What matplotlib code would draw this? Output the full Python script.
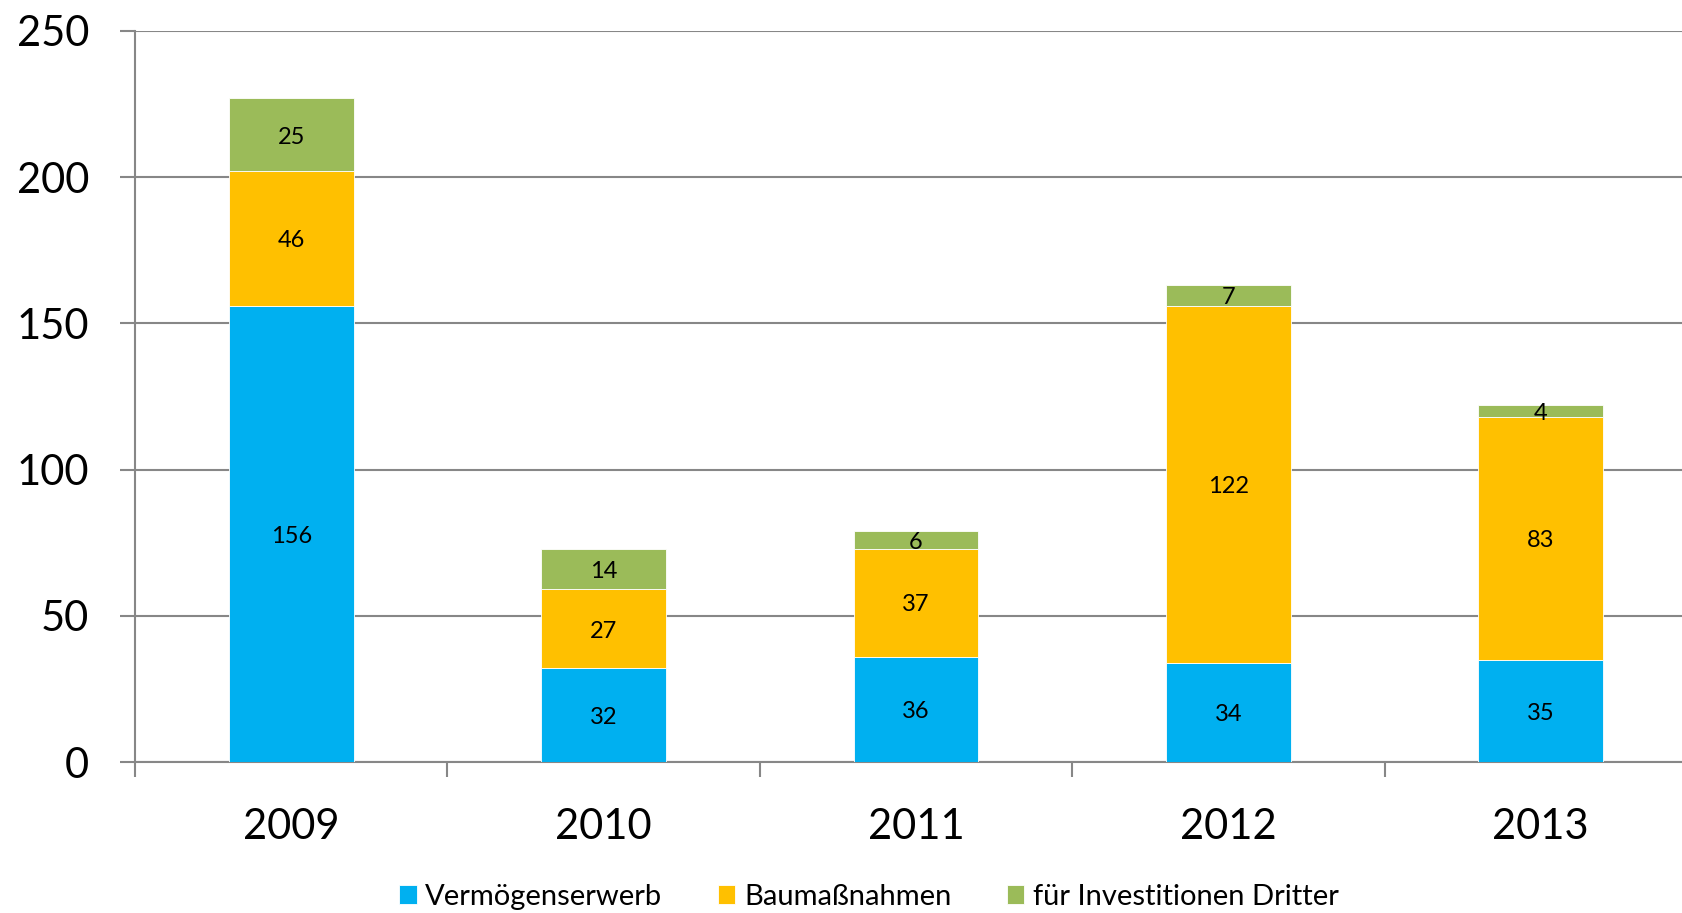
import matplotlib
matplotlib.use("Agg")
from matplotlib import pyplot as plt
import numpy as np

plt.rcParams['font.family'] = ['Lato', 'DejaVu Sans']

years = ["2009", "2010", "2011", "2012", "2013"]
vermoegen = [156, 32, 36, 34, 35]
bau = [46, 27, 37, 122, 83]
dritte = [25, 14, 6, 7, 4]
series_names = ["Vermögenserwerb", "Baumaßnahmen", "für Investitionen Dritter"]
colors = ["#00B0F0", "#FFC000", "#9BBB59"]

fig = plt.figure(figsize=(16.82, 9.13), dpi=100)
# axes runs past the right edge, like the cropped original
ax = fig.add_axes([135 / 1682, 151 / 913, 1562 / 1682, 731 / 913])

x = np.arange(len(years))
bottom = np.zeros(len(years))
for vals, name, col in zip([vermoegen, bau, dritte], series_names, colors):
    bars = ax.bar(x, vals, 0.4, bottom=bottom, color=col, label=name,
                  edgecolor="white", linewidth=0.6, zorder=3)
    for xi, b, v in zip(x, bottom, vals):
        ax.text(xi, b + v / 2 - 0.8, str(v), ha="center", va="center",
                fontsize=17, color="black", zorder=4)
    bottom = bottom + np.array(vals)

grid_col = "#878787"
ax.set_xlim(-0.5, 4.5)
ax.set_ylim(0, 250)
ax.set_yticks(range(0, 251, 50))
ax.yaxis.grid(True, color=grid_col, linewidth=1.5, zorder=0)
ax.set_axisbelow(True)

ax.set_xticks(x)
ax.set_xticklabels(years)
ax.set_xticks(np.arange(-0.5, 5, 1), minor=True)
ax.tick_params(axis="x", which="major", length=0, labelsize=30, pad=33)
ax.tick_params(axis="x", which="minor", length=11, width=1.5, color=grid_col)
ax.tick_params(axis="y", length=11, width=1.5, color=grid_col, labelsize=30, pad=22)

for s in ["top", "right"]:
    ax.spines[s].set_visible(False)
for s in ["left", "bottom"]:
    ax.spines[s].set_color(grid_col)
    ax.spines[s].set_linewidth(1.5)

fig.legend(loc="center", bbox_to_anchor=(869 / 1682, 1 - 897 / 913), ncol=3,
           frameon=False, fontsize=21, handlelength=0.6, handleheight=0.6,
           handletextpad=0.3, columnspacing=1.9)

fig.savefig("out.png", dpi=100)
